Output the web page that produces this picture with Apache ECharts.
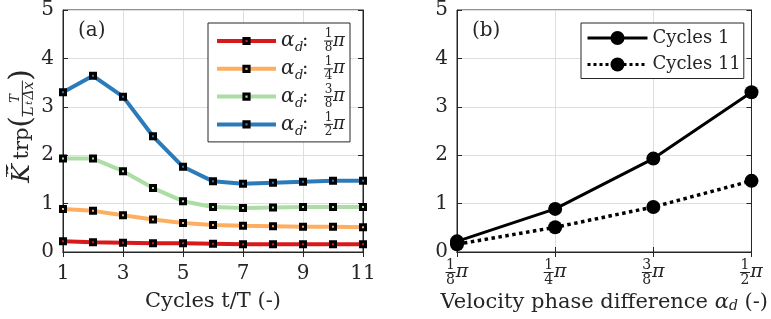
<!DOCTYPE html>
<html>
<head>
<meta charset="utf-8">
<script src="https://cdn.jsdelivr.net/npm/echarts@6/dist/echarts.min.js"></script>
<style>
  html, body { margin: 0; padding: 0; background: #fff; }
  #chart { width: 771px; height: 319px; }
</style>
</head>
<body>
<div id="chart"></div>
<script>
// data
const cycles = ['1', '2', '3', '4', '5', '6', '7', '8', '9', '10', '11'];
const kEighth = [0.22, 0.20, 0.19, 0.18, 0.18, 0.17, 0.16, 0.16, 0.16, 0.16, 0.16];
const kQuarter = [0.89, 0.85, 0.76, 0.67, 0.60, 0.56, 0.54, 0.53, 0.52, 0.52, 0.51];
const kThreeEighths = [1.93, 1.93, 1.67, 1.32, 1.05, 0.93, 0.91, 0.92, 0.93, 0.93, 0.93];
const kHalf = [3.30, 3.64, 3.21, 2.39, 1.76, 1.46, 1.41, 1.43, 1.45, 1.47, 1.47];

const phases = ['1/8', '1/4', '3/8', '1/2'];
const cycles1 = [0.22, 0.89, 1.93, 3.30];
const cycles11 = [0.16, 0.51, 0.93, 1.47];

const seriesA = [
  { name: '1/8', color: '#d7191c', data: kEighth },
  { name: '1/4', color: '#fdae61', data: kQuarter },
  { name: '3/8', color: '#abdda4', data: kThreeEighths },
  { name: '1/2', color: '#2b7bba', data: kHalf }
];

const FONT = 'DejaVu Serif';
const AX = '#262626';
const GRID = '#dedede';

const chart = echarts.init(document.getElementById('chart'));

// x tick labels of (b): stacked fraction then pi (every line same width)
const tickRich = {
  n: { fontFamily: FONT, fontSize: 14, lineHeight: 12, width: 10, align: 'center', color: AX },
  bar: { width: 10, height: 1, lineHeight: 3, fontSize: 1, backgroundColor: AX },
  p: { fontFamily: FONT, fontStyle: 'italic', fontSize: 19, lineHeight: 3, width: 13, color: AX },
  gp: { width: 13, lineHeight: 12 }
};

// legend of (a): alpha_d: fraction pi
const legRich = {
  n: { fontFamily: FONT, fontSize: 12, lineHeight: 11, width: 9, align: 'center', color: AX },
  bar: { width: 9, height: 1, lineHeight: 3, fontSize: 1, backgroundColor: AX },
  p: { fontFamily: FONT, fontStyle: 'italic', fontSize: 18, lineHeight: 3, width: 12, color: AX },
  tail: { width: 12, lineHeight: 11 },
  a: { fontFamily: FONT, fontStyle: 'italic', fontSize: 20, lineHeight: 3, width: 14, color: AX },
  ds: { width: 7, lineHeight: 3 },
  c: { fontFamily: FONT, fontSize: 19, lineHeight: 3, width: 22, color: AX },
  sp: { width: 43, lineHeight: 11 },
  sa: { width: 14, lineHeight: 11 },
  s: { fontFamily: FONT, fontStyle: 'italic', fontSize: 13, lineHeight: 9, width: 7, color: AX },
  sc: { width: 22, lineHeight: 11 }
};

function fracLabel(v) {
  const [num, den] = v.split('/');
  return `{n|${num}}{gp| }\n{bar| }{p|π}\n{n|${den}}{gp| }`;
}

function alphaLabel(v) {
  const [num, den] = v.split('/');
  return `{sp| }{n|${num}}{tail| }\n{a|α}{ds| }{c|:}{bar| }{p|π}\n{sa| }{s|d}{sc| }{n|${den}}{tail| }`;
}

const yName = '{ks| }{ft|T}{yt| }\n{ys| }{k|K\u0303\u0305}{t|trp}{par|(}{yb| }{par|)}\n{ks| }{dl|L}{dt|t}{dd|Δx}{yt| }';
const yNameRich = {
  ks: { width: 76, lineHeight: 11 },
  ft: { fontFamily: FONT, fontStyle: 'italic', fontSize: 13, width: 36, align: 'center', lineHeight: 11, color: AX },
  yt: { width: 11, lineHeight: 11 },
  ys: { width: 5, lineHeight: 3 },
  k: { fontFamily: FONT, fontStyle: 'italic', fontSize: 25, width: 28, lineHeight: 3, color: AX },
  t: { fontFamily: FONT, fontSize: 21, width: 32, lineHeight: 3, color: AX },
  par: { fontFamily: FONT, fontSize: 30, width: 11, lineHeight: 3, color: AX },
  yb: { width: 36, height: 1, lineHeight: 3, fontSize: 1, backgroundColor: AX },
  dl: { fontFamily: FONT, fontStyle: 'italic', fontSize: 14, lineHeight: 11, width: 11, align: 'right', color: AX },
  dt: { fontFamily: FONT, fontStyle: 'italic', fontSize: 10, lineHeight: 11, width: 5, verticalAlign: 'bottom', color: AX },
  dd: { fontFamily: FONT, fontStyle: 'italic', fontSize: 14, lineHeight: 11, width: 20, color: AX }
};

function valueY(gridIndex, position, showLabel) {
  return {
    type: 'value', gridIndex, position, min: 0, max: 5, interval: 1,
    axisLine: { show: true, lineStyle: { color: AX, width: 1 } },
    axisTick: { show: true, inside: true, length: 5, lineStyle: { color: AX } },
    axisLabel: { show: showLabel, fontFamily: FONT, fontSize: 20, color: AX, margin: 9 },
    splitLine: { show: showLabel, lineStyle: { color: GRID, width: 1 } }
  };
}

const tickLabel = { fontFamily: FONT, fontSize: 20, color: AX };
const nameLabel = { fontFamily: FONT, fontSize: 21, color: AX };

const option = {
  animation: false,
  backgroundColor: '#fff',
  grid: [
    { left: 63, right: 408, top: 9, bottom: 67, show: true, borderColor: AX, borderWidth: 1 },
    { left: 457, right: 13, top: 9, bottom: 67, show: true, borderColor: AX, borderWidth: 1 }
  ],
  xAxis: [
    {
      type: 'category', gridIndex: 0, data: cycles, boundaryGap: false,
      name: 'Cycles t/T (-)', nameLocation: 'middle', nameGap: 39,
      nameTextStyle: nameLabel,
      axisLine: { lineStyle: { color: AX } },
      axisTick: { inside: true, length: 5, interval: 1, lineStyle: { color: AX } },
      axisLabel: Object.assign({ interval: 1, margin: 12 }, tickLabel),
      splitLine: { show: true, interval: 1, lineStyle: { color: GRID } }
    },
    {
      type: 'category', gridIndex: 0, data: cycles, boundaryGap: false, position: 'top',
      axisLine: { lineStyle: { color: AX } },
      axisTick: { inside: true, length: 5, interval: 1, lineStyle: { color: AX } },
      axisLabel: { show: false }, splitLine: { show: false }
    },
    {
      type: 'category', gridIndex: 1, data: phases, boundaryGap: false,
      name: 'Velocity phase difference {a|α}{s|d} (-)', nameLocation: 'middle', nameGap: 36,
      nameTextStyle: Object.assign({
        rich: {
          a: { fontFamily: FONT, fontStyle: 'italic', fontSize: 21, color: AX },
          s: { fontFamily: FONT, fontStyle: 'italic', fontSize: 14, lineHeight: 12, verticalAlign: 'bottom', color: AX }
        }
      }, nameLabel),
      axisLine: { lineStyle: { color: AX } },
      axisTick: { inside: true, length: 5, lineStyle: { color: AX } },
      axisLabel: { margin: 7, formatter: fracLabel, rich: tickRich, align: 'center' },
      splitLine: { show: true, lineStyle: { color: GRID } }
    },
    {
      type: 'category', gridIndex: 1, data: phases, boundaryGap: false, position: 'top',
      axisLine: { lineStyle: { color: AX } },
      axisTick: { inside: true, length: 5, lineStyle: { color: AX } },
      axisLabel: { show: false }, splitLine: { show: false }
    }
  ],
  yAxis: [
    Object.assign(valueY(0, 'left', true), {
      name: yName, nameLocation: 'middle', nameRotate: 90, nameGap: 26,
      nameTextStyle: { rich: yNameRich }
    }),
    valueY(0, 'right', false),
    valueY(1, 'left', true),
    valueY(1, 'right', false)
  ],
  legend: [
    {
      data: seriesA.map(s => s.name),
      orient: 'vertical', left: 208, top: 23,
      padding: [5, 5, 4, 7], itemGap: 1.3, itemWidth: 59, itemHeight: 6.5,
      backgroundColor: '#fff', borderColor: AX, borderWidth: 1, borderRadius: 0,
      lineStyle: { width: 4 },
      itemStyle: { borderWidth: 3, borderColor: '#000' },
      formatter: alphaLabel,
      textStyle: { rich: legRich }
    },
    {
      data: ['Cycles 1', 'Cycles 11'],
      orient: 'vertical', left: 581, top: 23,
      padding: [6, 3, 5, 5], itemGap: 8.5, itemWidth: 60, itemHeight: 17.5,
      backgroundColor: '#fff', borderColor: AX, borderWidth: 1, borderRadius: 0,
      lineStyle: { width: 3 },
      textStyle: { fontFamily: FONT, fontSize: 18, color: AX }
    }
  ],
  graphic: [
    { type: 'text', left: 78, top: 21, style: { text: '(a)', font: '20px "DejaVu Serif"', fill: AX } },
    { type: 'text', left: 472, top: 21, style: { text: '(b)', font: '20px "DejaVu Serif"', fill: AX } }
  ],
  series: seriesA.map(s => ({
    name: s.name, type: 'line', xAxisIndex: 0, yAxisIndex: 0, data: s.data,
    symbol: 'rect', symbolSize: 5,
    lineStyle: { color: s.color, width: 4 },
    itemStyle: { color: s.color, borderColor: '#000', borderWidth: 3 }
  })).concat([
    {
      name: 'Cycles 1', type: 'line', xAxisIndex: 2, yAxisIndex: 2, data: cycles1,
      symbol: 'circle', symbolSize: 14,
      lineStyle: { color: '#000', width: 3 },
      itemStyle: { color: '#000' }
    },
    {
      name: 'Cycles 11', type: 'line', xAxisIndex: 2, yAxisIndex: 2, data: cycles11,
      symbol: 'circle', symbolSize: 14,
      lineStyle: { color: '#000', width: 3.5, type: 'dotted' },
      itemStyle: { color: '#000' }
    }
  ])
};

chart.setOption(option);
</script>
</body>
</html>
